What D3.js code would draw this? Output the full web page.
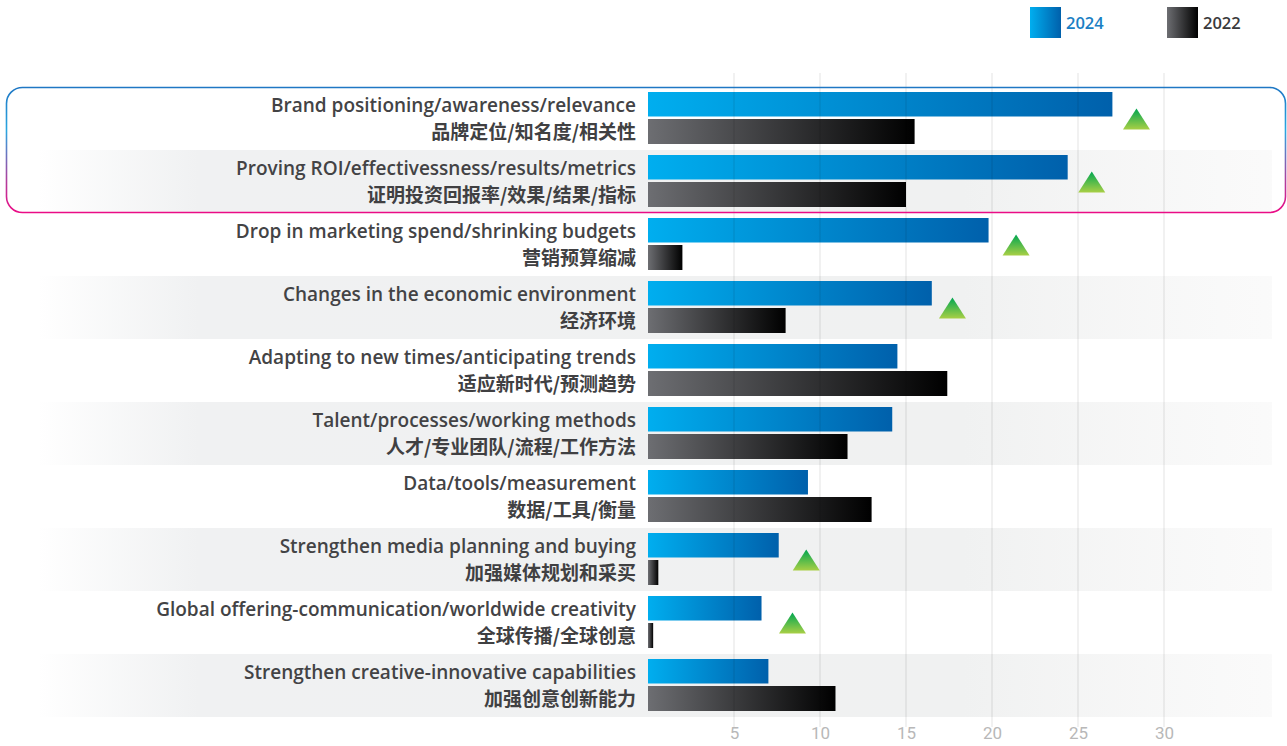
<!DOCTYPE html>
<html><head><meta charset="utf-8">
<script src="https://cdn.jsdelivr.net/npm/d3@7/dist/d3.min.js"></script>
<style>
html,body{margin:0;padding:0;background:#fff;}
svg{display:block;}
</style></head>
<body>
<svg id="chart" width="1287" height="746"></svg>
<script>
const categoriesEn = [
  "Brand positioning/awareness/relevance",
  "Proving ROI/effectivessness/results/metrics",
  "Drop in marketing spend/shrinking budgets",
  "Changes in the economic environment",
  "Adapting to new times/anticipating trends",
  "Talent/processes/working methods",
  "Data/tools/measurement",
  "Strengthen media planning and buying",
  "Global offering-communication/worldwide creativity",
  "Strengthen creative-innovative capabilities"
];
const categoriesZh = [
  "品牌定位/知名度/相关性",
  "证明投资回报率/效果/结果/指标",
  "营销预算缩减",
  "经济环境",
  "适应新时代/预测趋势",
  "人才/专业团队/流程/工作方法",
  "数据/工具/衡量",
  "加强媒体规划和采买",
  "全球传播/全球创意",
  "加强创意创新能力"
];
const values2024 = [27.0, 24.4, 19.8, 16.5, 14.5, 14.2, 9.3, 7.6, 6.6, 7.0];
const values2022 = [15.5, 15.0, 2.0, 8.0, 17.4, 11.6, 13.0, 0.6, 0.3, 10.9];
// rising markers (triangle position on the value axis), null = none
const markerValues = [28.4, 25.8, 21.4, 17.7, null, null, null, 9.2, 8.4, null];
const tickValues = [5, 10, 15, 20, 25, 30];
const seriesNames = ["2024", "2022"];

const svg = d3.select("#chart");
const defs = svg.append("defs");

const x = d3.scaleLinear().domain([0, 30]).range([648, 1164]);
const y = d3.scaleBand().domain(d3.range(categoriesEn.length)).range([87, 717]).paddingInner(0).paddingOuter(0);
const bw = y.bandwidth();

function lg(id, stops, x1="0%", y1="0%", x2="100%", y2="0%") {
  const g = defs.append("linearGradient").attr("id", id)
    .attr("x1", x1).attr("y1", y1).attr("x2", x2).attr("y2", y2);
  stops.forEach(s => g.append("stop").attr("offset", s[0]).attr("stop-color", s[1]).attr("stop-opacity", s[2] == null ? 1 : s[2]));
}
lg("gBlue", [["0%", "#00aeef"], ["100%", "#0060ab"]]);
lg("gDark", [["0%", "#6d6e72"], ["100%", "#000000"]]);
lg("gTri", [["0%", "#00a651"], ["100%", "#a8cf45"]], "0%", "0%", "0%", "100%");
lg("gBand", [["0%", "#eff0f1", 0], ["13%", "#f0f1f2", 1], ["75%", "#f0f1f1", 1], ["100%", "#f7f7f7", 0.6]]);
defs.append("linearGradient").attr("id", "gBox")
  .attr("gradientUnits", "userSpaceOnUse").attr("x1", 0).attr("y1", 87).attr("x2", 0).attr("y2", 212)
  .call(g => {
    g.append("stop").attr("offset", "0%").attr("stop-color", "#1f77c4");
    g.append("stop").attr("offset", "35%").attr("stop-color", "#2aa6e0");
    g.append("stop").attr("offset", "75%").attr("stop-color", "#b03e9c");
    g.append("stop").attr("offset", "100%").attr("stop-color", "#ea0c86");
  });

// alternating bands
svg.append("g").selectAll("rect").data(d3.range(categoriesEn.length).filter(i => i % 2 === 1))
  .join("rect")
  .attr("x", 38).attr("width", 1234)
  .attr("y", i => y(i)).attr("height", bw)
  .attr("fill", "url(#gBand)");

// bars
const rowG = svg.append("g");
rowG.selectAll("rect.b24").data(values2024).join("rect").attr("class", "b24")
  .attr("x", x(0)).attr("y", (d, i) => y(i) + 5)
  .attr("width", d => x(d) - x(0)).attr("height", 24.5)
  .attr("fill", "url(#gBlue)");
rowG.selectAll("rect.b22").data(values2022).join("rect").attr("class", "b22")
  .attr("x", x(0)).attr("y", (d, i) => y(i) + 32)
  .attr("width", d => x(d) - x(0)).attr("height", 25)
  .attr("fill", "url(#gDark)");

// gridlines (drawn over bars, translucent)
svg.append("g").selectAll("line").data(tickValues).join("line")
  .attr("x1", d => x(d)).attr("x2", d => x(d))
  .attr("y1", 73).attr("y2", 727)
  .attr("stroke", "#000").attr("stroke-opacity", 0.075).attr("stroke-width", 1.5);

// axis labels
const axis = d3.axisBottom(x).tickValues(tickValues).tickSize(0).tickPadding(0);
const axG = svg.append("g").attr("transform", "translate(0,725)").call(axis);
axG.select(".domain").remove();
axG.selectAll("text").attr("font-family", "Roboto, 'Liberation Sans', sans-serif")
  .attr("font-size", 17).attr("fill", "#b8b8b8").attr("dy", "0.85em");

// triangles
const triW = 27, triH = 21;
svg.append("g").selectAll("path").data(markerValues.map((v, i) => ({v, i})).filter(d => d.v != null))
  .join("path")
  .attr("transform", d => `translate(${x(d.v)},${y(d.i) + bw / 2 + 0.5})`)
  .attr("d", `M0,${-triH/2}L${triW/2},${triH/2}L${-triW/2},${triH/2}Z`)
  .attr("fill", "url(#gTri)");

// labels
const lab = svg.append("g");
lab.selectAll("text.en").data(categoriesEn).join("text").attr("class", "en")
  .attr("x", 636).attr("y", (d, i) => y(i) + 25)
  .attr("text-anchor", "end")
  .attr("font-family", "'Open Sans', sans-serif").attr("font-size", 19).attr("font-weight", 600)
  .attr("fill", "#434345").text(d => d);
lab.selectAll("text.zh").data(categoriesZh).join("text").attr("class", "zh")
  .attr("x", 636).attr("y", (d, i) => y(i) + 51.5)
  .attr("text-anchor", "end")
  .attr("font-family", "'Noto Sans CJK SC', sans-serif").attr("font-size", 19).attr("font-weight", 700)
  .attr("fill", "#404042").text(d => d);

// highlight box
svg.append("rect")
  .attr("x", 6.5).attr("y", y(0) + 0.5).attr("width", 1279).attr("height", y(1) + bw - y(0) - 1)
  .attr("rx", 16).attr("ry", 16)
  .attr("fill", "none").attr("stroke", "url(#gBox)").attr("stroke-width", 1.6);

// legend
const legX = [1030, 1167];
const leg = svg.append("g");
seriesNames.forEach((s, i) => {
  leg.append("rect").attr("x", legX[i]).attr("y", 7).attr("width", 31).attr("height", 31)
    .attr("fill", i === 0 ? "url(#gBlue)" : "url(#gDark)");
  leg.append("text").attr("x", legX[i] + 36).attr("y", 28.5)
    .attr("font-family", "'Open Sans', sans-serif").attr("font-size", 16.5).attr("font-weight", 600)
    .attr("fill", i === 0 ? "#1b7fc4" : "#3a3a3c").text(s);
});
</script>
</body></html>
